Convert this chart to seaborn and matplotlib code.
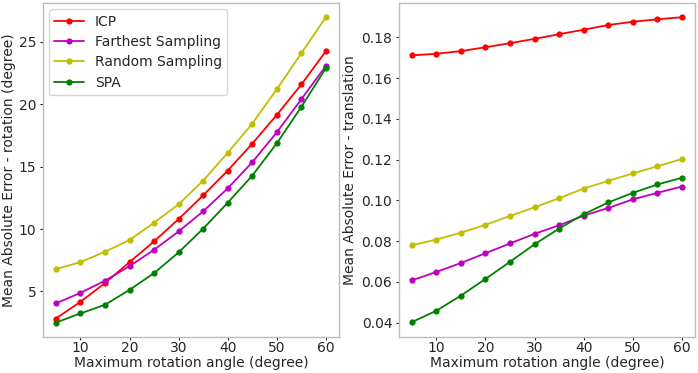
import matplotlib
matplotlib.use("Agg")
import matplotlib.pyplot as plt
import seaborn as sns
import pandas as pd

angles = [5, 10, 15, 20, 25, 30, 35, 40, 45, 50, 55, 60]
methods = ["ICP", "Farthest Sampling", "Random Sampling", "SPA"]

rot_icp = [2.83, 4.17, 5.67, 7.35, 9.01, 10.80, 12.70, 14.68, 16.84, 19.14, 21.58, 24.25]
rot_farthest = [4.04, 4.89, 5.86, 7.03, 8.34, 9.81, 11.42, 13.26, 15.35, 17.75, 20.40, 23.07]
rot_random = [6.79, 7.35, 8.18, 9.12, 10.51, 11.98, 13.88, 16.10, 18.45, 21.20, 24.09, 26.98]
rot_spa = [2.51, 3.24, 3.93, 5.13, 6.47, 8.13, 10.03, 12.11, 14.28, 16.87, 19.79, 22.89]

tr_icp = [0.1711, 0.1719, 0.1732, 0.1751, 0.1771, 0.1792, 0.1815, 0.1837, 0.1860, 0.1876, 0.1888, 0.1898]
tr_farthest = [0.0608, 0.0649, 0.0693, 0.0741, 0.0789, 0.0836, 0.0878, 0.0925, 0.0963, 0.1005, 0.1037, 0.1068]
tr_random = [0.0780, 0.0808, 0.0842, 0.0880, 0.0924, 0.0966, 0.1011, 0.1058, 0.1096, 0.1132, 0.1167, 0.1203]
tr_spa = [0.0403, 0.0459, 0.0533, 0.0615, 0.0699, 0.0785, 0.0862, 0.0932, 0.0990, 0.1037, 0.1078, 0.1111]

colors = {"ICP": "red", "Farthest Sampling": "m", "Random Sampling": "y", "SPA": "g"}

def make_df(series):
    rows = []
    for m, vals in zip(methods, series):
        for a, v in zip(angles, vals):
            rows.append({"angle": a, "value": v, "method": m})
    return pd.DataFrame(rows)

df_rot = make_df([rot_icp, rot_farthest, rot_random, rot_spa])
df_tr = make_df([tr_icp, tr_farthest, tr_random, tr_spa])

FS = 10
sns.set_style("white")
plt.rcParams.update({
    "font.family": ["DejaVu Sans"],
    "font.size": FS,
    "axes.edgecolor": "#bcbcbc",
    "axes.linewidth": 1.0,
    "text.color": "#262626",
    "axes.labelcolor": "#262626",
    "xtick.color": "#262626",
    "ytick.color": "#262626",
    "xtick.bottom": True,
    "ytick.left": True,
    "xtick.major.size": 2.0,
    "ytick.major.size": 2.0,
    "xtick.major.width": 0.8,
    "ytick.major.width": 0.8,
    "xtick.major.pad": 1.0,
    "ytick.major.pad": 2.5,
})

fig, (ax1, ax2) = plt.subplots(1, 2, figsize=(6.98, 3.73), dpi=100)
fig.subplots_adjust(left=0.061, right=0.996, bottom=0.097, top=0.992, wspace=0.2)

for ax, df in ((ax1, df_rot), (ax2, df_tr)):
    sns.lineplot(data=df, x="angle", y="value", hue="method", palette=colors,
                 marker="o", markersize=4.5, markeredgewidth=0, linewidth=1.3,
                 ax=ax, legend=(ax is ax1))
    ax.set_xticks([10, 20, 30, 40, 50, 60])
    ax.tick_params(labelsize=FS)

ax1.set_xlabel("Maximum rotation angle (degree)", fontsize=FS, labelpad=1)
ax1.set_ylabel("Mean Absolute Error - rotation (degree)", fontsize=FS, labelpad=2)
ax2.set_xlabel("Maximum rotation angle (degree)", fontsize=FS, labelpad=1)
ax2.set_ylabel("Mean Absolute Error - translation", fontsize=FS, labelpad=3)
ax1.set_yticks([5, 10, 15, 20, 25])
ax2.set_yticks([0.04, 0.06, 0.08, 0.10, 0.12, 0.14, 0.16, 0.18])
ax1.set_ylim(1.37, 28.1)
ax2.set_ylim(0.0331, 0.1968)
ax1.set_xlim(2.3, 62.7)
ax2.set_xlim(2.3, 62.7)

leg = ax1.legend(loc="upper left", fontsize=FS, frameon=True, handlelength=2.1,
                 borderaxespad=0.45, labelspacing=0.45)
leg.get_frame().set_edgecolor("#cccccc")

fig.savefig("out.png", dpi=100)
